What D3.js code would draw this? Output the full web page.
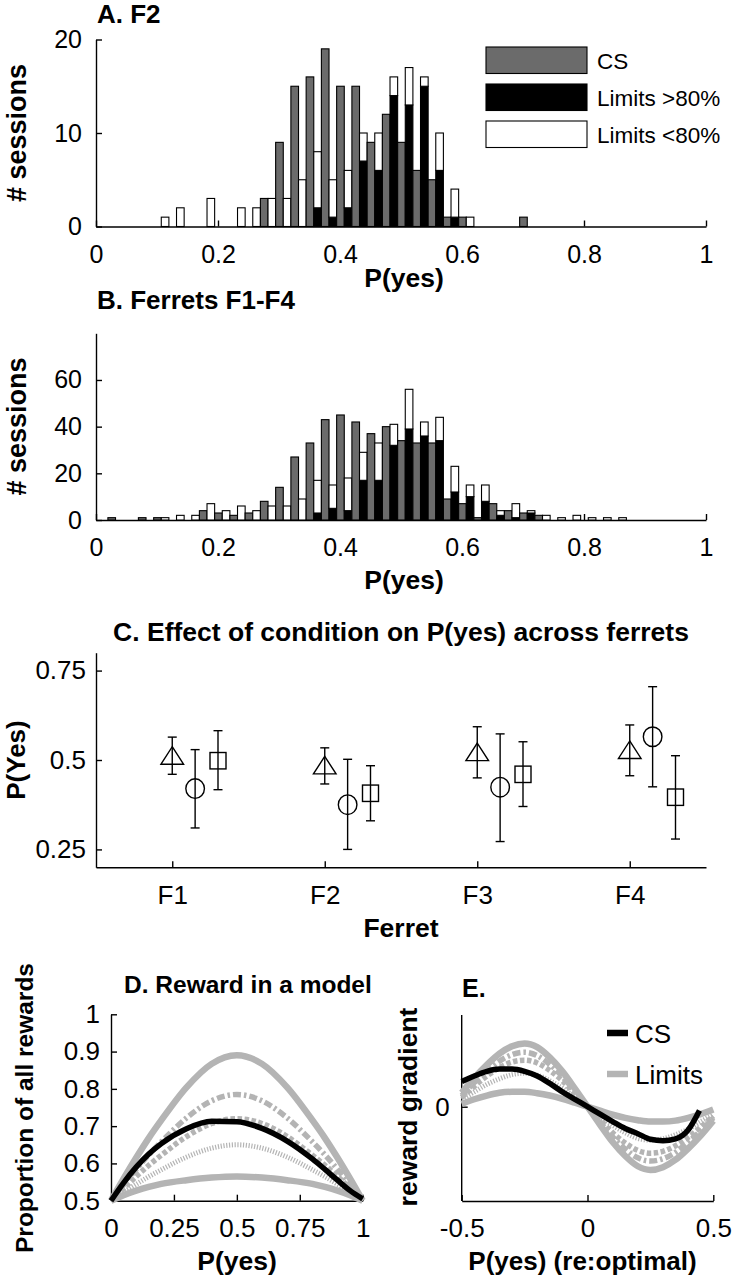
<!DOCTYPE html>
<html><head><meta charset="utf-8">
<script src="https://cdn.jsdelivr.net/npm/d3@7"></script>
<style>
body{margin:0;background:#fff}
svg text{font-family:"Liberation Sans",Arial,Helvetica,sans-serif;fill:#000}
</style></head><body>
<svg id="c" width="732" height="1279" style="display:block;background:#fff"></svg>
<script>
// ---------------- DATA ----------------
// histogram bin centres (P(yes))
const binCenters = [0.032,0.057,0.082,0.107,0.132,0.157,0.182,0.207,0.232,0.257,0.282,0.307,0.332,0.357,0.382,0.407,0.432,0.457,0.482,0.507,0.532,0.557,0.582,0.607,0.632,0.657,0.682,0.707,0.732,0.757,0.782,0.807,0.832,0.857,0.882,0.907];
// Panel A (F2)
const csA = [0,0,0,0,0,0,0,0,0,0,3,9,15,16,19,15,15,9,12,9,6,5,1,1,0,0,0,1,0,0,0,0,0,0,0,0];
const hiA = [0,0,0,0,0,0,0,0,0,0,0,0,0,2,1,2,7,6,14,13,15,6,1,0,0,0,0,0,0,0,0,0,0,0,0,0];
const loA = [0,0,0,1,2,0,3,0,2,2,3,3,5,6,4,4,3,4,2,4,1,4,3,1,0,0,0,0,0,0,0,0,0,0,0,0];
// Panel B (F1-F4)
const csB = [1,0,1,1,0,0,4,3,2,3,8,14,27,33,43,45,42,37,40,34,33,33,9,7,1,7,4,3,2,0,0,0,0,0,0,0];
const hiB = [0,0,0,0,0,0,0,0,0,0,0,0,0,3,5,4,17,17,32,39,36,34,12,10,8,2,1,3,0,0,0,0,0,0,0,0];
const loB = [0,0,0,1,2,2,7,4,6,4,6,6,9,14,10,14,12,16,9,17,6,10,11,5,7,2,6,1,2,1,2,1,1,1,0,0];
const histTicksX = [0,0.2,0.4,0.6,0.8,1];
const histTicksA = [0,10,20];
const histTicksB = [0,20,40,60];
const legendA = ["CS","Limits >80%","Limits <80%"];

// Panel C
const ferrets = ["F1","F2","F3","F4"];
const triMean = [0.512,0.485,0.522,0.528];
const triLo   = [0.460,0.433,0.450,0.456];
const triHi   = [0.564,0.534,0.593,0.598];
const cirMean = [0.420,0.375,0.424,0.565];
const cirLo   = [0.310,0.250,0.272,0.425];
const cirHi   = [0.529,0.502,0.573,0.705];
const sqMean  = [0.498,0.407,0.460,0.396];
const sqLo    = [0.417,0.330,0.370,0.279];
const sqHi    = [0.582,0.484,0.551,0.512];
const ticksC  = [0.25,0.5,0.75];

// Panel D
const pD      = [0,0.05,0.1,0.15,0.2,0.3,0.4,0.5,0.6,0.7,0.8,0.85,0.9,0.95,1];
const dOuter  = [0.5,0.559,0.615,0.668,0.716,0.804,0.867,0.89,0.867,0.804,0.716,0.668,0.615,0.559,0.5];
const dDashDot= [0.5,0.543,0.584,0.623,0.658,0.722,0.768,0.785,0.768,0.722,0.658,0.623,0.584,0.543,0.5];
const dDashed = [0.5,0.533,0.565,0.595,0.622,0.672,0.707,0.72,0.707,0.672,0.622,0.595,0.565,0.533,0.5];
const dDotted = [0.5,0.5225,0.544,0.5645,0.583,0.617,0.641,0.65,0.641,0.617,0.583,0.5645,0.544,0.5225,0.5];
const dInner  = [0.5,0.515,0.527,0.537,0.545,0.555,0.562,0.565,0.562,0.555,0.545,0.537,0.527,0.515,0.5];
const dCS     = [0.5,0.548,0.59,0.625,0.653,0.693,0.713,0.712,0.694,0.66,0.612,0.584,0.555,0.527,0.505];
const ticksDx = [0,0.25,0.5,0.75,1];
const ticksDy = [0.5,0.6,0.7,0.8,0.9,1];

// Panel E
const pE       = [-0.5,-0.45,-0.4,-0.35,-0.3,-0.25,-0.2,-0.15,-0.1,-0.05,0,0.05,0.1,0.15,0.2,0.25,0.3,0.35,0.4,0.45,0.5];
const eOuter   = [0.15,0.31,0.45,0.57,0.65,0.68,0.64,0.53,0.38,0.195,0,-0.195,-0.38,-0.53,-0.64,-0.68,-0.65,-0.57,-0.45,-0.31,-0.15];
const eDashDot = [0.12,0.26,0.38,0.49,0.56,0.585,0.55,0.455,0.325,0.165,0,-0.165,-0.325,-0.455,-0.55,-0.585,-0.56,-0.49,-0.38,-0.26,-0.12];
const eDashed  = [0.10,0.22,0.33,0.42,0.48,0.50,0.47,0.39,0.28,0.14,0,-0.14,-0.28,-0.39,-0.47,-0.50,-0.48,-0.42,-0.33,-0.22,-0.10];
const eDotted  = [0.08,0.16,0.24,0.30,0.345,0.36,0.34,0.28,0.20,0.10,0,-0.10,-0.20,-0.28,-0.34,-0.36,-0.345,-0.30,-0.24,-0.16,-0.08];
const eInner   = [0.03,0.08,0.12,0.15,0.16,0.16,0.145,0.12,0.085,0.043,0,-0.043,-0.085,-0.12,-0.145,-0.16,-0.16,-0.15,-0.12,-0.08,-0.03];
const pECS     = [-0.5,-0.45,-0.4,-0.35,-0.3,-0.25,-0.2,-0.15,-0.1,-0.05,0,0.05,0.1,0.15,0.2,0.25,0.3,0.35,0.4,0.445];
const eCS      = [0.27,0.33,0.38,0.405,0.405,0.38,0.33,0.25,0.16,0.08,0,-0.08,-0.16,-0.235,-0.29,-0.35,-0.365,-0.345,-0.25,-0.04];
const ticksEx  = [-0.5,0,0.5];
const ticksEy  = [0];
const legendE  = ["CS","Limits"];

// ---------------- DRAWING ----------------
const svg = d3.select("#c");
const FONT = '"Liberation Sans",Arial,Helvetica,sans-serif';
const GRAY = "#6b6b6b", LGRAY = "#b4b4b4";
const fmt = d => String(d);

function styleAxis(g, fs){
  g.attr("font-family", FONT).attr("font-size", fs);
  g.select("path.domain").attr("stroke","#000").attr("stroke-width",1.4);
  g.selectAll(".tick line").attr("stroke","#000").attr("stroke-width",1.4);
  g.selectAll(".tick text").attr("fill","#000");
}
function axBottom(y0, scale, ticks, pad, fs){
  const g = svg.append("g").attr("transform",`translate(0,${y0})`)
    .call(d3.axisBottom(scale).tickValues(ticks).tickFormat(fmt).tickSizeInner(-6).tickSizeOuter(0).tickPadding(pad));
  styleAxis(g, fs); return g;
}
function axLeft(x0, scale, ticks, pad, fs){
  const g = svg.append("g").attr("transform",`translate(${x0},0)`)
    .call(d3.axisLeft(scale).tickValues(ticks).tickFormat(fmt).tickSizeInner(-6).tickSizeOuter(0).tickPadding(pad));
  styleAxis(g, fs); return g;
}
function text(x, y, s, opt={}){
  const t = svg.append("text").attr("x",x).attr("y",y).text(s)
    .attr("font-size", opt.fs||25).attr("font-weight", opt.bold?"bold":"normal")
    .attr("text-anchor", opt.anchor||"start");
  if (opt.rot) t.attr("transform",`rotate(-90,${x},${y})`);
  return t;
}

// ----- Histograms -----
function histogram(yRange, maxY, ticksY, cs, hi, lo, tickPad){
  const x = d3.scaleLinear().domain([0,1]).range([96,706]);
  const y = d3.scaleLinear().domain([0,maxY]).range(yRange);
  axBottom(yRange[0], x, histTicksX, tickPad, 25);
  axLeft(96, y, ticksY, 14, 25);
  const half = 0.0125;
  const g = svg.append("g").attr("stroke","#000").attr("stroke-width",1.1);
  binCenters.forEach((c,i)=>{
    if (cs[i]>0) g.append("rect").attr("x",x(c-half)).attr("width",x(c)-x(c-half))
      .attr("y",y(cs[i])).attr("height",y(0)-y(cs[i])).attr("fill",GRAY);
    if (hi[i]>0) g.append("rect").attr("x",x(c)).attr("width",x(c+half)-x(c))
      .attr("y",y(hi[i])).attr("height",y(0)-y(hi[i])).attr("fill","#000");
    if (lo[i]>0) g.append("rect").attr("x",x(c)).attr("width",x(c+half)-x(c))
      .attr("y",y(hi[i]+lo[i])).attr("height",y(hi[i])-y(hi[i]+lo[i])).attr("fill","#fff");
  });
  return {x,y};
}
histogram([226.5,39.5], 20, histTicksA, csA, hiA, loA, 19);
histogram([520,333.3], 80, histTicksB, csB, hiB, loB, 18);

text(97,23,"A. F2",{bold:true,fs:26});
text(26,133,"# sessions",{bold:true,fs:27,rot:true,anchor:"middle"});
text(404,287,"P(yes)",{bold:true,fs:26.5,anchor:"middle"});
text(97,309,"B. Ferrets F1-F4",{bold:true,fs:26});
text(26,426.5,"# sessions",{bold:true,fs:27,rot:true,anchor:"middle"});
text(404,589,"P(yes)",{bold:true,fs:26.5,anchor:"middle"});

// legend A
const legFills = [GRAY,"#000","#fff"];
legendA.forEach((s,i)=>{
  const yTop = 47 + i*37;
  svg.append("rect").attr("x",486).attr("y",yTop).attr("width",101).attr("height",26.5)
    .attr("fill",legFills[i]).attr("stroke","#000").attr("stroke-width",1.1);
  text(597, yTop+21.5, s, {fs:22.5});
});

// ----- Panel C -----
{
  const x = d3.scaleLinear().domain([0.5,4.5]).range([96,706]);
  const y = d3.scaleLinear().domain([0.2,0.8]).range([867.3,652.7]);
  const gx = axBottom(867.3, x, [1,2,3,4], 18, 26);
  gx.selectAll(".tick text").text((d,i)=>ferrets[i]);
  axLeft(96, y, ticksC, 10, 26);
  const g = svg.append("g").attr("stroke","#000").attr("stroke-width",1.4).attr("fill","none");
  const sets = [
    {m:triMean, lo:triLo, hi:triHi, off:0,    shape:"tri"},
    {m:cirMean, lo:cirLo, hi:cirHi, off:0.15, shape:"cir"},
    {m:sqMean,  lo:sqLo,  hi:sqHi,  off:0.3,  shape:"sq"}
  ];
  sets.forEach(s=>{
    ferrets.forEach((f,i)=>{
      const cx = x(i+1+s.off);
      g.append("line").attr("x1",cx).attr("x2",cx).attr("y1",y(s.lo[i])).attr("y2",y(s.hi[i]));
      g.append("line").attr("x1",cx-4.5).attr("x2",cx+4.5).attr("y1",y(s.lo[i])).attr("y2",y(s.lo[i]));
      g.append("line").attr("x1",cx-4.5).attr("x2",cx+4.5).attr("y1",y(s.hi[i])).attr("y2",y(s.hi[i]));
      const cy = y(s.m[i]);
      if (s.shape==="tri") g.append("path").attr("d",`M${cx},${cy-9}L${cx+11.3},${cy+8.5}L${cx-11.3},${cy+8.5}Z`);
      else if (s.shape==="cir") g.append("ellipse").attr("cx",cx).attr("cy",cy).attr("rx",9.3).attr("ry",9.8);
      else g.append("rect").attr("x",cx-8).attr("y",cy-8.2).attr("width",16).attr("height",16.4);
    });
  });
  text(401,641,"C. Effect of condition on P(yes) across ferrets",{bold:true,fs:26.5,anchor:"middle"});
  text(25,760,"P(Yes)",{bold:true,fs:26,rot:true,anchor:"middle"});
  text(401,937,"Ferret",{bold:true,fs:26.5,anchor:"middle"});
}

// ----- Panel D -----
{
  const x = d3.scaleLinear().domain([0,1]).range([111,362.7]);
  const y = d3.scaleLinear().domain([0.5,1]).range([1200.7,1014.3]);
  axBottom(1200.7, x, ticksDx, 18, 26);
  axLeft(111, y, ticksDy, 11, 26);
  const line = d3.line().x((d,i)=>x(pD[i])).y(d=>y(d)).curve(d3.curveMonotoneX);
  const g = svg.append("g").attr("fill","none").attr("stroke-linecap","butt");
  g.append("path").attr("d",line(dInner)).attr("stroke",LGRAY).attr("stroke-width",6.5);
  g.append("path").attr("d",line(dOuter)).attr("stroke",LGRAY).attr("stroke-width",6.5);
  g.append("path").attr("d",line(dDotted)).attr("stroke",LGRAY).attr("stroke-width",5).attr("stroke-dasharray","1.2,1.6");
  g.append("path").attr("d",line(dDashed)).attr("stroke",LGRAY).attr("stroke-width",5.5).attr("stroke-dasharray","4.5,2.5");
  g.append("path").attr("d",line(dDashDot)).attr("stroke",LGRAY).attr("stroke-width",5.5).attr("stroke-dasharray","8,3,2.5,3");
  g.append("path").attr("d",line(dCS)).attr("stroke","#000").attr("stroke-width",5.5);
  text(124,993,"D. Reward in a model",{bold:true,fs:24.5});
  text(33,1108,"Proportion of all rewards",{bold:true,fs:24.5,rot:true,anchor:"middle"});
  text(237,1270,"P(yes)",{bold:true,fs:26.5,anchor:"middle"});
}

// ----- Panel E -----
{
  const x = d3.scaleLinear().domain([-0.5,0.5]).range([461.7,713.3]);
  const y = d3.scaleLinear().domain([-1,1]).range([1199.7,1013.7]);
  axBottom(1201, x, ticksEx, 18, 26);
  const gy = axLeft(461.7, y, ticksEy, 12, 26);
  gy.select("path.domain").attr("d","M0,1015V1201");
  const lineP = d3.line().x((d,i)=>x(pE[i])).y(d=>y(d)).curve(d3.curveMonotoneX);
  const lineC = d3.line().x((d,i)=>x(pECS[i])).y(d=>y(d)).curve(d3.curveMonotoneX);
  const g = svg.append("g").attr("fill","none");
  g.append("path").attr("d",lineP(eInner)).attr("stroke",LGRAY).attr("stroke-width",6.5);
  g.append("path").attr("d",lineP(eOuter)).attr("stroke",LGRAY).attr("stroke-width",6.5);
  g.append("path").attr("d",lineP(eDotted)).attr("stroke",LGRAY).attr("stroke-width",5).attr("stroke-dasharray","1.2,1.6");
  g.append("path").attr("d",lineP(eDashed)).attr("stroke",LGRAY).attr("stroke-width",5.5).attr("stroke-dasharray","4.5,2.5");
  g.append("path").attr("d",lineP(eDashDot)).attr("stroke",LGRAY).attr("stroke-width",5.5).attr("stroke-dasharray","8,3,2.5,3");
  g.append("path").attr("d",lineC(eCS)).attr("stroke","#000").attr("stroke-width",5.5);
  const legCol = ["#000", LGRAY];
  legendE.forEach((s,i)=>{
    const ly = 1033 + i*41;
    svg.append("line").attr("x1",607).attr("x2",628).attr("y1",ly).attr("y2",ly)
      .attr("stroke",legCol[i]).attr("stroke-width",6.5);
    text(635, ly+10, s, {fs:26});
  });
  text(462,997,"E.",{bold:true,fs:25});
  text(417,1107,"reward gradient",{bold:true,fs:26.5,rot:true,anchor:"middle"});
  text(582.5,1270,"P(yes) (re:optimal)",{bold:true,fs:26,anchor:"middle"});
}
</script></body></html>
